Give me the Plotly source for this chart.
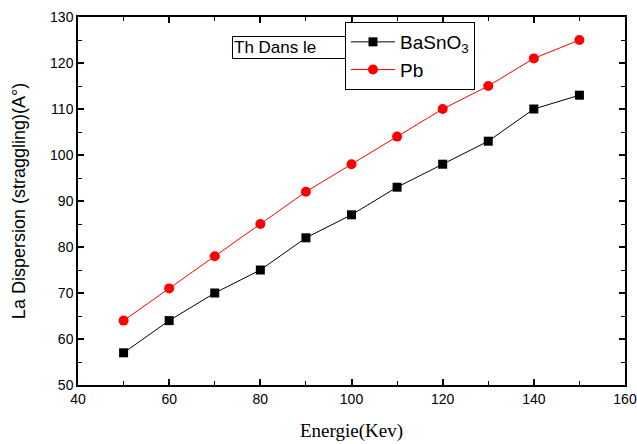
import plotly.graph_objects as go

energie = [50, 60, 70, 80, 90, 100, 110, 120, 130, 140, 150]
basno3 = [57, 64, 70, 75, 82, 87, 93, 98, 103, 110, 113]
pb = [64, 71, 78, 85, 92, 98, 104, 110, 115, 121, 125]

fig = go.Figure()
fig.add_trace(go.Scatter(x=energie, y=basno3, mode="lines+markers", name="BaSnO<sub>3</sub>",
                         line=dict(color="black", width=1),
                         marker=dict(symbol="square", size=9, color="black")))
fig.add_trace(go.Scatter(x=energie, y=pb, mode="lines+markers", name="Pb",
                         line=dict(color="red", width=1),
                         marker=dict(symbol="circle", size=10, color="red")))

axis_common = dict(showline=True, linecolor="black", linewidth=1.5, mirror="ticks",
                   ticks="inside", ticklen=6, tickcolor="black", tickwidth=1.5,
                   showgrid=False, zeroline=False, automargin=False,
                   tickfont=dict(family="Liberation Sans, Arial", size=14, color="black"))

fig.update_xaxes(range=[40, 160], dtick=20,
                 minor=dict(dtick=10, ticks="inside", ticklen=4, tickcolor="black", tickwidth=1),
                 title=dict(text="Energie(Kev)", font=dict(family="Liberation Serif, Times New Roman", size=19, color="black"), standoff=18),
                 **axis_common)
fig.update_yaxes(range=[50, 130], dtick=10,
                 minor=dict(dtick=5, ticks="inside", ticklen=4, tickcolor="black", tickwidth=1),
                 title=dict(text="La Dispersion (straggling)(A°)", font=dict(family="Liberation Sans, Arial", size=18, color="black"), standoff=20),
                 **axis_common)

W, H = 637, 444
L, R, T, B = 78, 12, 17, 59
pw = W - L - R
ph = H - T - B


def px(xw):
    return (xw - L) / pw


def py(yw):
    return 1 - (yw - T) / ph


fig.add_annotation(x=px(232), y=py(48), xref="paper", yref="paper",
                   text="Th Dans le", width=110, align="left",
                   showarrow=False, xanchor="left", yanchor="middle",
                   font=dict(family="Liberation Sans, Arial", size=17, color="black"),
                   bordercolor="black", borderwidth=1, bgcolor="white", borderpad=1)

fig.update_layout(
    width=W, height=H,
    margin=dict(l=L, r=R, t=T, b=B),
    paper_bgcolor="white", plot_bgcolor="white",
    showlegend=True,
    legend=dict(x=px(345), y=py(22), xanchor="left", yanchor="top",
                bgcolor="white", bordercolor="black", borderwidth=1,
                font=dict(family="Liberation Sans, Arial", size=19, color="black"),
                itemwidth=44, tracegroupgap=0),
)

fig.write_html("out.html", config={"displayModeBar": False},
               post_script="document.body.style.margin='0';document.body.style.overflow='hidden';")
